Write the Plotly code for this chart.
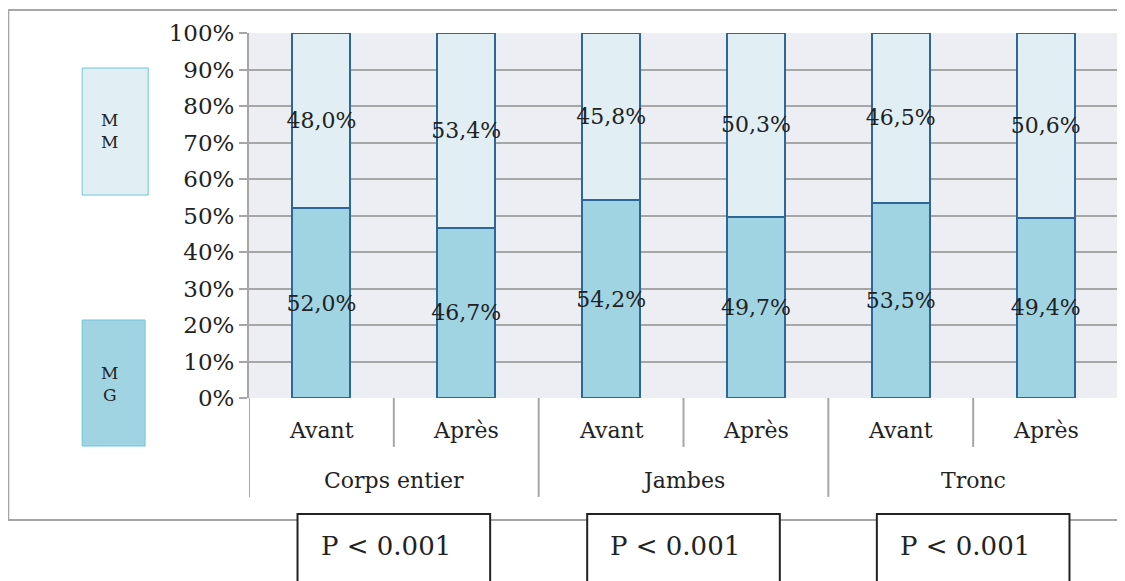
import plotly.graph_objects as go

groups = ["Corps entier", "Jambes", "Tronc"]
periods = ["Avant", "Après"]
mg_values = [52.0, 46.7, 54.2, 49.7, 53.5, 49.4]
mm_values = [48.0, 53.4, 45.8, 50.3, 46.5, 50.6]
series_names = ["MG", "MM"]
p_labels = ["P < 0.001", "P < 0.001", "P < 0.001"]
y_ticks = list(range(0, 101, 10))

FONT = "DejaVu Serif"
TXT = "#222222"
GRID = "#A6A6A6"
MG_FILL = "#A1D4E3"
MM_FILL = "#E1EFF5"
EDGE = "#2F6699"

n = len(groups) * len(periods)
xs = list(range(n))
sub_labels = [p for g in groups for p in periods]


def fmt(v):
    return f"{v:.1f}%".replace(".", ",")


fig = go.Figure()
for name, vals, fill in [(series_names[0], mg_values, MG_FILL), (series_names[1], mm_values, MM_FILL)]:
    fig.add_trace(go.Bar(
        x=xs, y=vals, name=name, width=0.4,
        marker=dict(color=fill, line=dict(color=EDGE, width=2)),
        text=[fmt(v) for v in vals], textposition="inside", insidetextanchor="middle",
        textangle=0, constraintext="none",
        insidetextfont=dict(family=FONT, size=22, color=TXT),
    ))

fig.update_layout(
    width=1117, height=573, barmode="stack", barnorm="percent",
    margin=dict(l=241, r=7, t=25, b=183),
    paper_bgcolor="white", plot_bgcolor="#ECEEF4",
    showlegend=False, font=dict(family=FONT, color=TXT),
)
fig.update_xaxes(range=[-0.5, n - 0.5], showticklabels=False, showgrid=False,
                 zeroline=False, showline=False, ticks="")
fig.update_yaxes(range=[0, 100], tickvals=y_ticks, ticktext=[f"{t}%" for t in y_ticks],
                 tickfont=dict(family=FONT, size=23, color=TXT),
                 showgrid=True, gridcolor=GRID, gridwidth=2,
                 showline=True, linecolor=GRID, linewidth=2,
                 ticks="outside", ticklen=8, tickcolor=GRID, tickwidth=2,
                 zeroline=False)

shapes = []
# outer frame (right side runs past the figure edge)
shapes.append(dict(type="rect", xref="paper", yref="paper", x0=-0.277, x1=1.1, y0=-0.334, y1=1.063,
                   line=dict(color="#A6A6A6", width=2), fillcolor="rgba(0,0,0,0)", layer="below"))
# right edge of plot
shapes.append(dict(type="line", xref="paper", yref="paper", x0=1, x1=1, y0=0, y1=1,
                   line=dict(color=GRID, width=2)))
# category dividers
for i in range(n + 1):
    is_group = i % len(periods) == 0
    shapes.append(dict(type="line", xref="x", yref="paper", x0=i - 0.5, x1=i - 0.5,
                       y0=0, y1=-0.271 if is_group else -0.134,
                       line=dict(color=GRID, width=2)))
# legend boxes
shapes.append(dict(type="rect", xref="paper", yref="paper", x0=-0.192, x1=-0.116, y0=0.556, y1=0.904,
                   fillcolor=MM_FILL, line=dict(color="#6CC6DA", width=1)))
shapes.append(dict(type="rect", xref="paper", yref="paper", x0=-0.192, x1=-0.1196, y0=-0.1315, y1=0.2137,
                   fillcolor=MG_FILL, line=dict(color="#6CC6DA", width=1)))

annotations = []
for i, lab in enumerate(sub_labels):
    annotations.append(dict(x=i, y=-0.0904, xref="x", yref="paper", text=lab, showarrow=False,
                            font=dict(family=FONT, size=22, color=TXT), xanchor="center", yanchor="middle"))
for gi, g in enumerate(groups):
    c = gi * len(periods) + (len(periods) - 1) / 2
    annotations.append(dict(x=c, y=-0.227, xref="x", yref="paper", text=g, showarrow=False,
                            font=dict(family=FONT, size=22, color=TXT), xanchor="center", yanchor="middle"))
    shapes.append(dict(type="rect", xref="x", yref="paper", x0=c - 0.665, x1=c + 0.665,
                       y0=-0.6, y1=-0.3178, fillcolor="white", line=dict(color="#222222", width=2)))
    annotations.append(dict(x=c - 0.52, y=-0.406, xref="x", yref="paper", text=p_labels[gi],
                            showarrow=False, xanchor="left", yanchor="middle",
                            font=dict(family=FONT, size=26, color=TXT)))

annotations.append(dict(x=-0.161, y=0.7315, xref="paper", yref="paper", text="M<br>M", showarrow=False,
                        xanchor="center", yanchor="middle", font=dict(family=FONT, size=17, color=TXT)))
annotations.append(dict(x=-0.161, y=0.038, xref="paper", yref="paper", text="M<br>G", showarrow=False,
                        xanchor="center", yanchor="middle", font=dict(family=FONT, size=17, color=TXT)))

fig.update_layout(shapes=shapes, annotations=annotations)
fig.write_html("out.html")
